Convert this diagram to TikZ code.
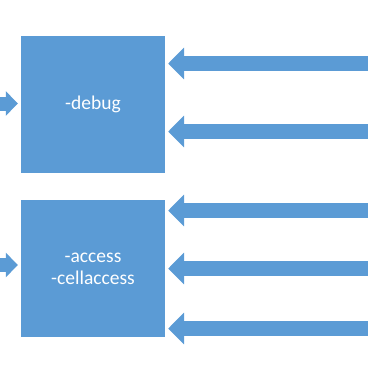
\documentclass[tikz,border=0pt]{standalone}
\usepackage{fontspec}
\setmainfont{Carlito}
\usetikzlibrary{arrows.meta}
\definecolor{officeblue}{HTML}{5B9BD5}
\tikzset{
  blockbox/.style={fill=officeblue, draw=none, minimum width=144pt, minimum height=137pt, inner sep=0pt,
    text=white, align=center, font=\fontsize{19.5}{22}\selectfont},
  bigarrow/.style={draw=officeblue, line width=15.5pt, shorten >=3pt,
    -{Triangle[length=16pt,width=31pt,fill=officeblue,color=officeblue]}},
  smallarrow/.style={draw=officeblue, line width=14pt, shorten >=3pt,
    -{Triangle[length=12pt,width=24pt,fill=officeblue,color=officeblue]}}
}
\begin{document}
\begin{tikzpicture}[x=1pt,y=-1pt]
\useasboundingbox (0,0) rectangle (367,367);
\node[blockbox] (box1) at (93,104.5) {-debug};
\node[blockbox] (box2) at (93,268.5) {-access\\-cellaccess};
% right-side free ends
\coordinate (r1) at (375,63.5);
\coordinate (r2) at (375,131.5);
\coordinate (r3) at (375,210.5);
\coordinate (r4) at (375,268.5);
\coordinate (r5) at (375,328.5);
% left-side free ends
\coordinate (l1) at (-5,103.5);
\coordinate (l2) at (-5,265);
\draw[bigarrow] (r1) -- (r1 -| box1.east);
\draw[bigarrow] (r2) -- (r2 -| box1.east);
\draw[bigarrow] (r3) -- (r3 -| box2.east);
\draw[bigarrow] (r4) -- (r4 -| box2.east);
\draw[bigarrow] (r5) -- (r5 -| box2.east);
\draw[smallarrow] (l1) -- (l1 -| box1.west);
\draw[smallarrow] (l2) -- (l2 -| box2.west);
\end{tikzpicture}
\end{document}
